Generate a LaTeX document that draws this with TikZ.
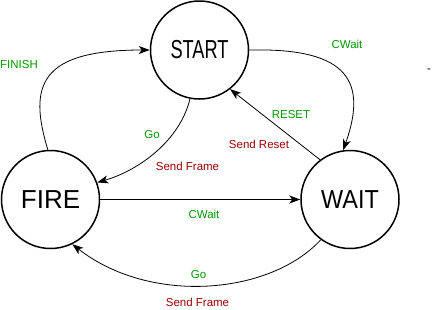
\documentclass[tikz,border=0pt]{standalone}
\usepackage{fontspec}
\setmainfont{Liberation Sans}
\usetikzlibrary{arrows.meta}
\definecolor{lblgreen}{HTML}{009900}
\definecolor{lblred}{HTML}{990000}
\begin{document}
\begin{tikzpicture}[x=1pt,y=-1pt,
  state/.style={circle,draw,line width=1.5pt,minimum size=98pt,inner sep=0pt,
    font=\fontsize{26}{28}\selectfont},
  trans/.style={line width=0.8pt,-{Stealth[length=11pt,width=8pt,inset=3pt]}},
  glbl/.style={text=lblgreen,font=\fontsize{11.5}{13}\selectfont,inner sep=0pt},
  rlbl/.style={text=lblred,font=\fontsize{11.5}{13}\selectfont,inner sep=0pt}]
\useasboundingbox (0,0) rectangle (433,309);

% states
\node[state] (start) at (199.5,50) {\scalebox{0.7}[1]{START}};
\node[state] (fire) at (50.5,199.5) {FIRE};
\node[state] (wait) at (350,199.5) {\scalebox{0.9}[1]{WAIT}};

% transitions
\draw[trans] (fire.93) .. controls (28,85) and (40,50) .. (start.west);
\draw[trans] (start.-101) .. controls (180,140) and (140,170) .. (fire.20);
\draw[trans] (start.east) .. controls (340,48) and (370,75) .. (wait.98);
\draw[trans] (wait.127) -- (start.-52);
\draw[trans] (fire.east) -- (wait.west);
\draw[trans] (wait.234) .. controls (270,295) and (150,305) .. (fire.-64);

% transition labels
\node[glbl] (lfinish) at (19,64.5) {FINISH};
\node[glbl] (lgo1) at (152,135) {Go};
\node[rlbl] (lsf1) at (187.5,166) {Send Frame};
\node[glbl] (lcw1) at (347,44.5) {CWait};
\node[glbl] (lreset) at (291,114.5) {RESET};
\node[rlbl] (lsr) at (259,144.5) {Send Reset};
\node[glbl] (lcw2) at (204,214.5) {CWait};
\node[glbl] (lgo2) at (198.5,275) {Go};
\node[rlbl] (lsf2) at (197.5,302.5) {Send Frame};

\node[font=\fontsize{11.5}{13}\selectfont,inner sep=0pt,anchor=base] (dash) at (429,72) {-};
\end{tikzpicture}
\end{document}
